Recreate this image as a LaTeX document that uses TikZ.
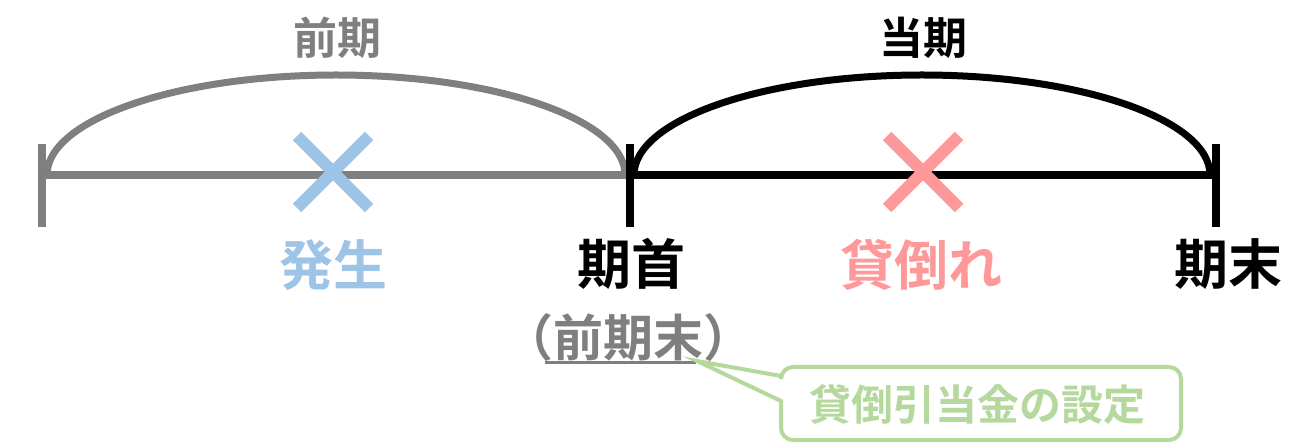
\documentclass[tikz,border=0pt]{standalone}
\usepackage{fontspec}
\newfontfamily\jp{Noto Sans CJK JP Bold}
\definecolor{gr}{HTML}{7F7F7F}
\definecolor{bl}{HTML}{9DC3E6}
\definecolor{pk}{HTML}{FF9999}
\definecolor{gn}{HTML}{B5D99C}
\tikzset{
  lbl/.style={inner sep=0pt, font=\jp\fontsize{54}{54}\selectfont},
  toplbl/.style={inner sep=0pt, font=\jp\fontsize{44}{44}\selectfont},
  axis/.style={line width=8pt},
  arcline/.style={line width=7pt},
  crossline/.style={line width=12pt},
}
\begin{document}
\begin{tikzpicture}[x=1pt,y=-1pt]
\useasboundingbox (0,0) rectangle (1314,443);
% points
\coordinate (A) at (42,175);
\coordinate (B) at (630,175);
\coordinate (C) at (1216,175);
% previous period (gray)
\draw[axis, gr] (42,144) -- (42,227);
\draw[axis, gr] (A) -- (B);
\draw[arcline, gr] (47,175) arc[start angle=180, end angle=360, x radius=289, y radius=100];
% current period (black)
\draw[arcline, black] (634,175) arc[start angle=180, end angle=360, x radius=288, y radius=100];
\draw[axis, black] (B) -- (1220,175);
\draw[axis, black] (630,144) -- (630,227);
\draw[axis, black] (1216,144) -- (1216,227);
% crosses
\draw[crossline, bl] (297,136) -- (369,208) (369,136) -- (297,208);
\draw[crossline, pk] (887,136) -- (959,208) (959,136) -- (887,208);
% labels
\node[toplbl, text=gr] (zenki) at (337,38) {前期};
\node[toplbl, text=black] (touki) at (923,38) {当期};
\node[lbl, text=bl] (hassei) at (333,265) {発生};
\node[lbl, text=black] (kishu) at (631,264) {期首};
\node[lbl, text=pk] (kashidaore) at (921,265) {貸倒れ};
\node[lbl, text=black] (kimatsu) at (1228,264) {期末};
\node[inner sep=0pt, font=\jp\fontsize{50}{50}\selectfont, text=gr] (zenkimatsu) at (628,338) {（前期末）};
\draw[gr, line width=3pt] (545,363) -- (696,363);
% callout
\node[inner sep=0pt, font=\jp\fontsize{42}{42}\selectfont, text=gn] (callout) at (977,404) {貸倒引当金の設定};
\coordinate (tip) at (697,361);
\draw[gn, line width=4pt, fill=white, line join=miter]
  (tip) -- (781,376) [rounded corners=12pt] -- (781,367) -- (1181,367) -- (1181,440) -- (781,440) [sharp corners] -- (781,401) -- cycle;
\node[inner sep=0pt, font=\jp\fontsize{42}{42}\selectfont, text=gn] at (callout) {貸倒引当金の設定};
\end{tikzpicture}
\end{document}
